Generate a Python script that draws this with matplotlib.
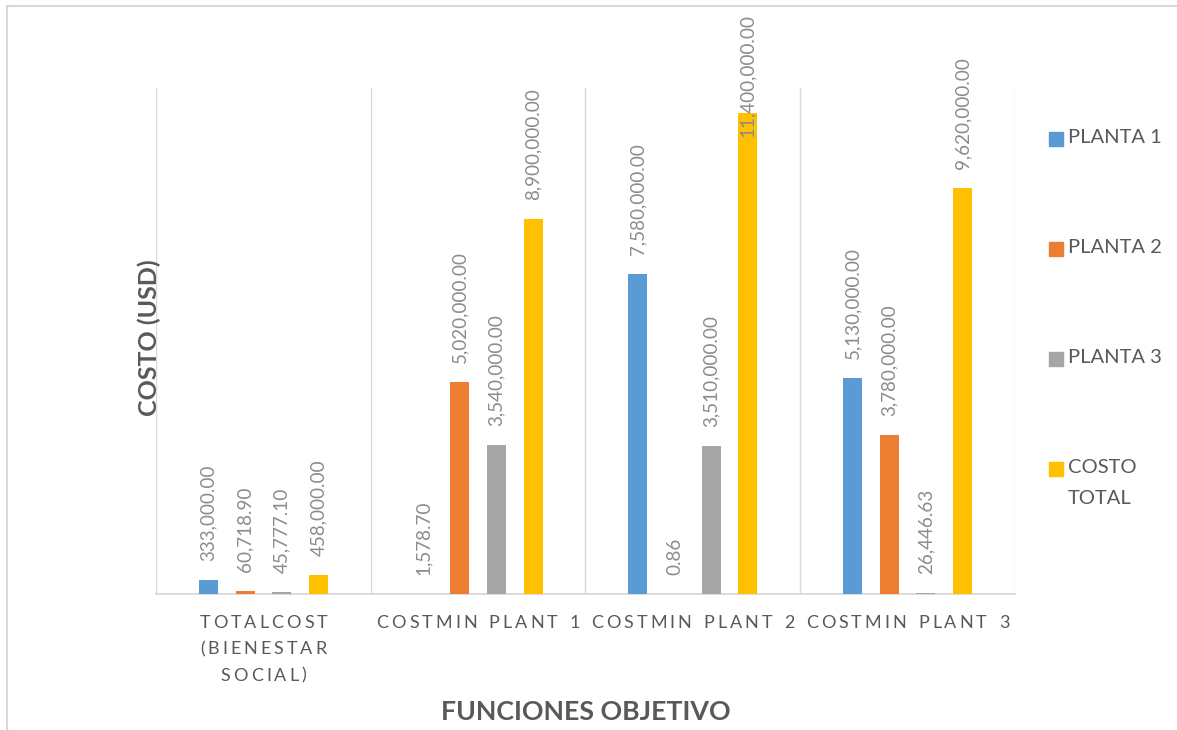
import numpy as np
import matplotlib
matplotlib.use("Agg")
import matplotlib.pyplot as plt
from matplotlib.lines import Line2D
from matplotlib.patches import Rectangle

plt.rcParams['font.family'] = ['Lato', 'DejaVu Sans']

# funciones objetivo (categorias) y costos por planta
categorias = ["TOTALCOST\n(BIENESTAR\nSOCIAL)", "COSTMIN PLANT 1", "COSTMIN PLANT 2", "COSTMIN PLANT 3"]
series = ["PLANTA 1", "PLANTA 2", "PLANTA 3", "COSTO\nTOTAL"]
planta1 = [333000.00, 1578.70, 7580000.00, 5130000.00]
planta2 = [60718.90, 5020000.00, 0.86, 3780000.00]
planta3 = [45777.10, 3540000.00, 3510000.00, 26446.63]
costo_total = [458000.00, 8900000.00, 11400000.00, 9620000.00]

valores = [planta1, planta2, planta3, costo_total]
colores = ["#5B9BD5", "#ED7D31", "#A5A5A5", "#FFC000"]

gris_txt = "#595959"
gris_lbl = "#8c8c8c"
gris_lin = "#d9d9d9"

fig = plt.figure(figsize=(11.77, 7.30), dpi=100)
ax = fig.add_axes([0.13254, 0.18630, 0.72982, 0.69315])

x = np.arange(len(categorias))
paso = 0.1705
ancho = 0.0885

etiquetas = []
for i, (vals, col) in enumerate(zip(valores, colores)):
    xs = x + (i - 1.5) * paso
    ax.bar(xs, vals, width=ancho, color=col, zorder=3)
    for xi, v in zip(xs, vals):
        t = ax.annotate(f"{v:,.2f}", xy=(xi, v), xytext=(0, 19), textcoords="offset pixels",
                        rotation=90, ha="center", va="bottom", fontsize=13.6,
                        color=gris_lbl, annotation_clip=False, zorder=4)
        etiquetas.append(t)

ax.set_xlim(-0.5, len(categorias) - 0.5)
ax.set_ylim(0, 12000000)

# lineas verticales entre categorias
for b in np.arange(-0.5, len(categorias), 1.0):
    ax.axvline(b, color=gris_lin, lw=1.0, zorder=1)

for s in ["top", "right", "left"]:
    ax.spines[s].set_visible(False)
ax.spines["bottom"].set_color(gris_lin)
ax.spines["bottom"].set_linewidth(1.3)
ax.set_yticks([])
ax.set_xticks(x)
ax.set_xticklabels([])
ax.tick_params(axis="x", length=0)

fig.text(0.127, 0.537, "COSTO (USD)", rotation=90, ha="center", va="center",
         fontsize=18, fontweight="bold", color=gris_txt)
fig.text(0.498, 0.024, "FUNCIONES OBJETIVO", ha="center", va="center",
         fontsize=19.3, fontweight="bold", color=gris_txt)

# leyenda a la derecha
ley_y = [0.810, 0.659, 0.508, 0.358]
for nombre, col, yy in zip(series, colores, ley_y):
    fig.add_artist(Rectangle((1049 / 1177, yy - 7 / 730), 14 / 1177, 14 / 730,
                             transform=fig.transFigure, color=col))
    fig.text(1068 / 1177, yy + 10 / 730, nombre, ha="left", va="top", fontsize=14.5,
             color=gris_txt, linespacing=2.0)

# borde exterior del grafico
fig.add_artist(Line2D([6.5 / 1177, 6.5 / 1177], [0, 1 - 5.5 / 730], color=gris_lin, lw=1.5,
                      transform=fig.transFigure))
fig.add_artist(Line2D([6.5 / 1177, 1], [1 - 5.5 / 730, 1 - 5.5 / 730], color=gris_lin, lw=1.5,
                      transform=fig.transFigure))

fig.canvas.draw()
r = fig.canvas.get_renderer()

# etiquetas de categoria con letras espaciadas, letra por letra
fs_cat = 13
sep_letra = 3.0
sep_palabra = 12.0
base0 = 33.5
interlinea = 26.5

def ancho_px(ch):
    t = fig.text(0, 0, ch, fontsize=fs_cat)
    w = t.get_window_extent(r).width
    t.remove()
    return w

for k, cat in enumerate(categorias):
    for j, linea in enumerate(cat.split("\n")):
        pos = []
        cur = 0.0
        for n, palabra in enumerate(linea.split(" ")):
            if n > 0:
                cur += sep_palabra - sep_letra
            for ch in palabra:
                pos.append((ch, cur))
                cur += ancho_px(ch) + sep_letra
        total = cur - sep_letra
        for ch, off in pos:
            ax.annotate(ch, xy=(x[k], 0), xycoords=ax.get_xaxis_transform(),
                        xytext=(off - total / 2, -base0 - j * interlinea),
                        textcoords="offset pixels", ha="left", va="baseline",
                        fontsize=fs_cat, color=gris_txt, annotation_clip=False)

# etiquetas que no caben arriba se bajan dentro del borde
limite = 730 - 14
for t in etiquetas:
    bb = t.get_window_extent(r)
    if bb.y1 > limite:
        dx, dy = t.xyann
        t.xyann = (dx, dy - (bb.y1 - limite))

fig.savefig("out.png", dpi=100)
